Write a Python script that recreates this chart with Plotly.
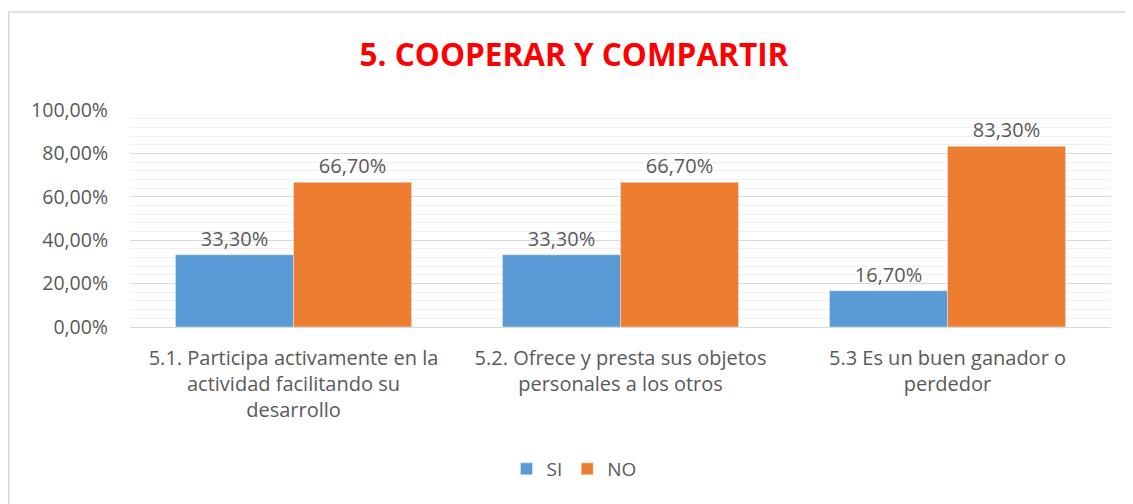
import plotly.graph_objects as go

categories = [
    "5.1. Participa activamente en la<br>actividad facilitando su<br>desarrollo",
    "5.2. Ofrece y presta sus objetos<br>personales a los otros",
    "5.3 Es un buen ganador o<br>perdedor",
]
si_values = [0.333, 0.333, 0.167]
no_values = [0.667, 0.667, 0.833]
y_ticks = [0, 0.2, 0.4, 0.6, 0.8, 1.0]

FONT = "Open Sans"
GRAY = "#595959"

# page body has an 8px margin; the figure is sized/positioned to compensate
W, H = 1125, 496
L, R, T, B = 122, 22, 102, 177
PW, PH = W - L - R, H - T - B

fig = go.Figure()
fig.add_trace(go.Bar(
    name="SI", x=categories, y=si_values, marker_color="#5b9bd5",
    texttemplate="%{y:.2%}", textposition="outside",
    textfont=dict(size=20, color=GRAY, family=FONT), cliponaxis=False,
))
fig.add_trace(go.Bar(
    name="NO", x=categories, y=no_values, marker_color="#ed7d31",
    texttemplate="%{y:.2%}", textposition="outside",
    textfont=dict(size=20, color=GRAY, family=FONT), cliponaxis=False,
))

fig.update_layout(
    width=W, height=H,
    separators=",.",
    barmode="group", bargap=0.278, bargroupgap=0,
    paper_bgcolor="white", plot_bgcolor="white",
    margin=dict(l=L, r=R, t=T, b=B),
    font=dict(family=FONT, color=GRAY, size=19),
    title=dict(text="<b>5. COOPERAR Y COMPARTIR</b>", x=(566 - L) / PW, xref="paper",
               xanchor="center", y=1 - 47 / H, yanchor="middle",
               font=dict(size=31.5, color="#ff0000", family=FONT)),
    legend=dict(orientation="h", x=(566 - L) / PW, xanchor="center",
                y=-(461 - (T + PH)) / PH, yanchor="middle",
                font=dict(size=19, color=GRAY, family=FONT), itemwidth=30),
    showlegend=True,
)
fig.update_yaxes(
    range=[0, 1], tickvals=y_ticks, tickformat=".2%",
    showgrid=True, gridcolor="#d9d9d9", gridwidth=1,
    minor=dict(dtick=0.04, showgrid=True, gridcolor="#f0f0f0", gridwidth=1),
    zeroline=False, showline=False, ticks="",
    ticklabelstandoff=21,
    tickfont=dict(size=19.5, color=GRAY, family=FONT),
)
fig.update_xaxes(
    showline=True, linecolor="#d9d9d9", linewidth=1, ticks="",
    ticklabelstandoff=13,
    tickfont=dict(size=20, color=GRAY, family=FONT),
)
# chart border (left and top visible in the reference)
fig.add_shape(type="rect", xref="paper", yref="paper",
              x0=(0.8 - L) / PW, x1=1.3, y0=-1.5, y1=1 + (T - 4) / PH,
              line=dict(color="#d9d9d9", width=1.6), layer="below")

fig.write_html("out.html")
